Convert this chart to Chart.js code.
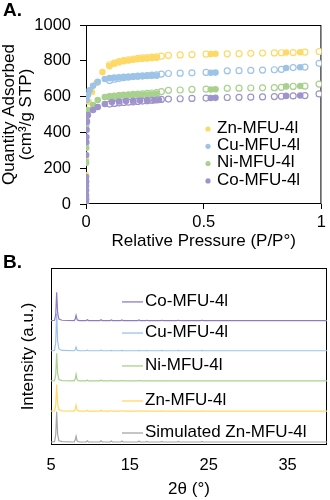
<!DOCTYPE html>
<html>
<head>
<meta charset="utf-8">
<script src="https://cdn.jsdelivr.net/npm/chart.js@4.4.1/dist/chart.umd.min.js"></script>
<style>
  html, body { margin: 0; padding: 0; background: #fff; }
  #wrap { position: relative; width: 330px; height: 500px; }
  canvas { position: absolute; left: 0; }
  #isotherm { top: 0; }
  #pxrd { top: 252px; }
</style>
</head>
<body>
<div id="wrap">
  <canvas id="isotherm" width="330" height="252"></canvas>
  <canvas id="pxrd" width="330" height="248"></canvas>
</div>
<script>
// N2 isotherms (77 K): filled = adsorption, open = desorption
const sorbents = ['Zn-MFU-4l', 'Cu-MFU-4l', 'Ni-MFU-4l', 'Co-MFU-4l'];
const sorbentColors = ['#FFD966', '#9DC3E6', '#A9D18E', '#9F93CB'];

const znAdsP = [0, 0, 0, 0, 0, 0.0005, 0.001, 0.002, 0.005, 0.012, 0.025, 0.045, 0.07, 0.1, 0.12, 0.14, 0.16, 0.18, 0.2, 0.22, 0.24, 0.26, 0.28, 0.3, 0.53, 0.55, 0.85, 0.91];
const znAdsQ = [15, 80, 160, 250, 340, 420, 480, 490, 508, 570, 626, 676, 737, 770, 785, 792, 798, 802, 806, 809, 811, 813, 815, 817, 838, 839, 846, 848];
const cuAdsP = [0, 0, 0, 0, 0.0005, 0.001, 0.003, 0.008, 0.015, 0.03, 0.05, 0.08, 0.1, 0.12, 0.14, 0.16, 0.18, 0.2, 0.22, 0.24, 0.26, 0.28, 0.3, 0.53, 0.55, 0.85, 0.91];
const cuAdsQ = [30, 120, 235, 340, 441, 525, 581, 609, 635, 660, 682, 698, 703, 706, 708, 710, 711, 712, 713, 714, 715, 716, 717, 733, 734, 760, 764];
const niAdsP = [0, 0, 0, 0.0005, 0.001, 0.003, 0.008, 0.03, 0.05, 0.08, 0.1, 0.12, 0.14, 0.16, 0.18, 0.2, 0.22, 0.24, 0.26, 0.28, 0.3, 0.53, 0.55, 0.85, 0.91];
const niAdsQ = [40, 130, 229, 313, 420, 490, 525, 553, 581, 598, 602, 604, 606, 607, 608, 609, 610, 611, 612, 613, 615, 640, 641, 657, 659];
const coAdsP = [0, 0, 0, 0, 0, 0, 0, 0.0005, 0.001, 0.0015, 0.002, 0.004, 0.008, 0.03, 0.05, 0.08, 0.11, 0.14, 0.17, 0.2, 0.23, 0.26, 0.29, 0.31, 0.53, 0.55, 0.85, 0.91];
const coAdsQ = [0, 25, 50, 75, 100, 125, 151, 274, 346, 374, 413, 460, 497, 525, 542, 559, 570, 573, 575, 577, 578, 579, 580, 581, 592, 593, 604, 606];

const desP = [0.99, 0.93, 0.88, 0.83, 0.8, 0.75, 0.7, 0.65, 0.6, 0.51, 0.45, 0.4, 0.35, 0.32, 0.3, 0.28, 0.26, 0.24, 0.22, 0.2, 0.18, 0.16, 0.14, 0.12, 0.1];
const znDesQ = [852, 848, 846, 845, 844, 843, 842, 840, 839, 837, 835, 833, 830, 826, 822, 820, 818, 816, 813, 810, 806, 801, 795, 787, 778];
const cuDesQ = [786, 765, 762, 752, 750, 748, 746, 745, 744, 735, 733, 731, 729, 726, 722, 720, 718, 716, 714, 712, 709, 706, 702, 697, 690];
const niDesQ = [670, 659, 657, 652, 650, 649, 648, 647, 646, 642, 640, 637, 635, 628, 622, 620, 618, 616, 614, 612, 610, 608, 605, 602, 598];
const coDesQ = [615, 606, 604, 602, 600, 598, 597, 596, 595, 592, 590, 588, 586, 584, 581, 579, 577, 575, 573, 571, 569, 567, 565, 562, 558];

// PXRD patterns, top to bottom
const patterns = ['Co-MFU-4l', 'Cu-MFU-4l', 'Ni-MFU-4l', 'Zn-MFU-4l', 'Simulated Zn-MFU-4l'];
const patternColors = ['#8E7CC3', '#9DC3E6', '#A9D18E', '#FFD966', '#A6A6A6'];
const twoTheta = [5.0, 5.45, 5.6, 5.72, 5.84, 6.0, 6.4, 7.95, 8.08, 8.18, 8.32, 8.6, 9.45, 9.6, 9.75, 11.2, 11.35, 11.5, 12.5, 12.65, 12.8, 13.85, 14.0, 14.15, 16.0, 16.15, 16.3, 17.0, 17.15, 17.3, 18.9, 19.05, 19.2, 21.0, 21.15, 21.3, 24.0, 24.15, 24.3, 28.0, 33.0, 40.0];
const coScan  = [2, 3, 22, 96, 28, 7, 3, 2, 8, 19, 4, 2, 2, 5, 2, 2, 5, 2, 2, 4, 2, 2, 4, 2, 2, 4, 2, 2, 3, 2, 2, 3, 2, 2, 3, 2, 2, 3, 2, 2, 2, 2];
const cuScan  = [2, 3, 30, 125, 35, 8, 3, 2, 6, 14, 4, 2, 2, 4, 2, 2, 4, 2, 2, 3, 2, 2, 3, 2, 2, 3, 2, 2, 3, 2, 2, 3, 2, 2, 3, 2, 2, 3, 2, 2, 2, 2];
const niScan  = [2, 3, 22, 94, 27, 7, 3, 2, 9, 24, 5, 2, 2, 5, 2, 2, 5, 2, 2, 4, 2, 2, 4, 2, 2, 4, 2, 2, 3, 2, 2, 3, 2, 2, 3, 2, 2, 3, 2, 2, 2, 2];
const znScan  = [2, 3, 21, 90, 26, 7, 3, 2, 9, 22, 5, 2, 2, 5, 2, 2, 5, 2, 2, 4, 2, 2, 4, 2, 2, 4, 2, 2, 3, 2, 2, 3, 2, 2, 3, 2, 2, 3, 2, 2, 2, 2];
const simScan = [0, 1, 24, 100, 26, 4, 1, 0, 7, 19, 3, 0, 0, 4, 0, 0, 4, 0, 0, 3, 0, 0, 3, 0, 0, 3, 0, 0, 2, 0, 0, 2, 0, 0, 2, 0, 0, 2, 0, 0, 0, 0];
const xrdTicks = [5, 15, 25, 35];

Chart.defaults.font.family = '"Liberation Sans", Arial, sans-serif';
Chart.defaults.color = '#000';

const FONT = '"Liberation Sans", Arial, sans-serif';

function pairs(xs, ys) {
  return xs.map((x, i) => ({ x: x, y: ys[i] }));
}

// box round the plot area, under the marks
const frame = {
  id: 'frame',
  beforeDatasetsDraw(chart) {
    const { ctx, chartArea: a } = chart;
    ctx.save();
    ctx.strokeStyle = '#000';
    ctx.lineWidth = 1;
    ctx.strokeRect(a.left + 0.5, a.top + 0.5, a.right - a.left - 1, a.bottom - a.top - 1);
    ctx.restore();
  }
};

function panelTag(text) {
  return {
    id: 'panelTag',
    afterDraw(chart) {
      const ctx = chart.ctx;
      ctx.save();
      ctx.font = 'bold 19px ' + FONT;
      ctx.fillStyle = '#000';
      ctx.textBaseline = 'middle';
      ctx.fillText(text, 3, 11);
      ctx.restore();
    }
  };
}

// isotherm key: small dots in the lower right of the plot
const isothermKey = {
  id: 'isothermKey',
  afterDatasetsDraw(chart) {
    const { ctx, chartArea: a } = chart;
    ctx.save();
    ctx.font = '17px ' + FONT;
    ctx.textBaseline = 'middle';
    sorbents.forEach((name, i) => {
      const y = a.top + 103 + i * 17.3;
      ctx.fillStyle = sorbentColors[i];
      ctx.beginPath();
      ctx.arc(a.left + 122, y + 1, 2.6, 0, Math.PI * 2);
      ctx.fill();
      ctx.fillStyle = '#000';
      ctx.fillText(name, a.left + 131, y);
    });
    ctx.restore();
  }
};

// line-and-name tag above each pattern
const tagLevels = [467, 364, 255, 139, 33];
const patternTags = {
  id: 'patternTags',
  afterDatasetsDraw(chart) {
    const { ctx, chartArea: a, scales } = chart;
    ctx.save();
    ctx.font = '17px ' + FONT;
    ctx.textBaseline = 'middle';
    patterns.forEach((name, i) => {
      const y = scales.y.getPixelForValue(tagLevels[i]);
      ctx.strokeStyle = patternColors[i];
      ctx.lineWidth = 1.3;
      ctx.beginPath();
      ctx.moveTo(a.left + 71, y + 1);
      ctx.lineTo(a.left + 92, y + 1);
      ctx.stroke();
      ctx.fillStyle = '#000';
      ctx.fillText(name, a.left + 94, y);
    });
    ctx.restore();
  }
};

const adsorption = [[znAdsP, znAdsQ], [cuAdsP, cuAdsQ], [niAdsP, niAdsQ], [coAdsP, coAdsQ]];
const desorption = [znDesQ, cuDesQ, niDesQ, coDesQ];

const isothermSets = [];
sorbents.forEach((name, i) => {
  isothermSets.push({
    label: name,
    data: pairs(adsorption[i][0], adsorption[i][1]),
    backgroundColor: sorbentColors[i],
    borderColor: sorbentColors[i],
    borderWidth: 0,
    pointRadius: 3.3,
    order: (3 - i) * 2
  });
  isothermSets.push({
    label: name + ' (des.)',
    data: pairs(desP, desorption[i]),
    backgroundColor: '#fff',
    borderColor: sorbentColors[i],
    borderWidth: 1.2,
    pointRadius: 3,
    order: (3 - i) * 2 + 1
  });
});

const plainNumber = v => String(v);

new Chart(document.getElementById('isotherm'), {
  type: 'scatter',
  data: { datasets: isothermSets },
  options: {
    responsive: false,
    animation: false,
    layout: { padding: { top: 25, right: 5, left: 0, bottom: 0 } },
    plugins: { legend: { display: false }, tooltip: { enabled: false } },
    scales: {
      x: {
        type: 'linear', min: 0, max: 1,
        ticks: { stepSize: 0.5, font: { size: 16.5 }, padding: 4, callback: plainNumber },
        grid: { drawOnChartArea: false, drawTicks: true, tickLength: 5, color: '#000' },
        border: { display: false },
        title: { display: true, text: 'Relative Pressure (P/P°)', font: { size: 17 }, padding: 0 },
        afterFit(scale) { scale.height = 48; }
      },
      y: {
        min: 0, max: 1000,
        ticks: { stepSize: 200, font: { size: 16.5 }, padding: 9, callback: plainNumber },
        grid: { drawOnChartArea: false, drawTicks: true, tickLength: 6, color: '#000' },
        border: { display: false },
        title: {
          display: true,
          text: ['Quantity Adsorbed', '(cm³/g STP)'],
          font: { size: 17, lineHeight: 1 },
          padding: { top: 1, bottom: 0 }
        },
        afterFit(scale) { scale.width = 86; }
      }
    }
  },
  plugins: [frame, isothermKey, panelTag('A.')]
});

const scans = [coScan, cuScan, niScan, znScan, simScan];
const stackOffsets = [400, 300, 200, 100, 0];

new Chart(document.getElementById('pxrd'), {
  type: 'line',
  data: {
    datasets: patterns.map((name, i) => ({
      label: name,
      data: twoTheta.map((t, j) => ({ x: t, y: scans[i][j] + stackOffsets[i] })),
      borderColor: patternColors[i],
      borderWidth: 1.2,
      pointRadius: 0,
      tension: 0,
      fill: false
    }))
  },
  options: {
    responsive: false,
    animation: false,
    layout: { padding: { top: 16, right: 3, left: 0, bottom: 0 } },
    plugins: { legend: { display: false }, tooltip: { enabled: false } },
    scales: {
      x: {
        type: 'linear', min: 5, max: 40,
        afterBuildTicks(axis) { axis.ticks = xrdTicks.map(v => ({ value: v })); },
        ticks: { font: { size: 16.5 }, padding: 11 },
        grid: { drawOnChartArea: false, drawTicks: false },
        border: { display: false },
        title: { display: true, text: '2θ (°)', font: { size: 17 }, padding: 0 },
        afterFit(scale) { scale.height = 55; }
      },
      y: {
        min: -10, max: 576,
        ticks: { display: false },
        grid: { display: false },
        border: { display: false },
        title: { display: true, text: 'Intensity (a.u.)', font: { size: 17 }, padding: { top: 18, bottom: 0 } },
        afterFit(scale) { scale.width = 51; }
      }
    }
  },
  plugins: [frame, patternTags, panelTag('B.')]
});
</script>
</body>
</html>
